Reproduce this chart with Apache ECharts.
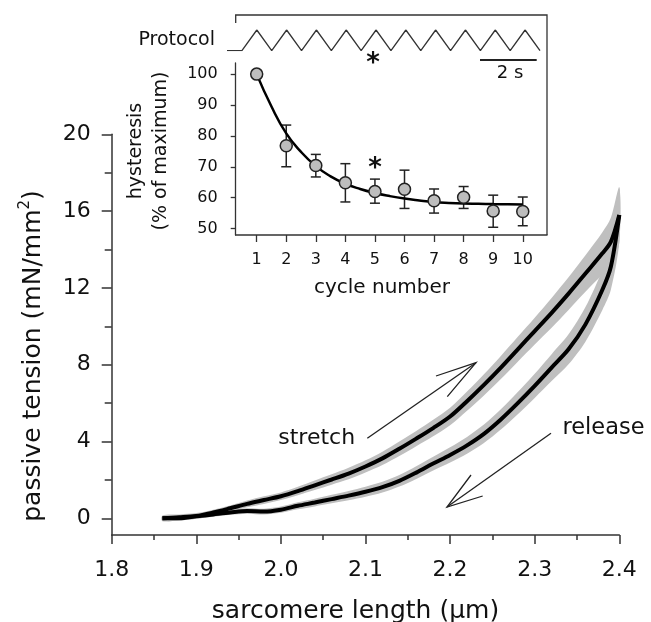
<!DOCTYPE html>
<html><head><meta charset="utf-8">
<script src="https://cdn.jsdelivr.net/npm/echarts@6/dist/echarts.min.js"></script>
<style>html,body{margin:0;padding:0;background:#fff}#c{width:651px;height:622px}</style>
</head><body><div id="c"></div>
<script>
// ---------- main panel data ----------
const lengthUm = [1.86,1.88,1.90,1.92,1.94,1.96,1.98,2.00,2.02,2.04,2.06,2.08,2.10,2.12,2.14,2.16,2.18,2.20,2.22,2.24,2.26,2.28,2.30,2.32,2.34,2.36,2.38,2.39,2.40];
const stretchTension = [0.0,0.05,0.12,0.3,0.52,0.75,0.95,1.15,1.42,1.72,2.02,2.33,2.7,3.12,3.62,4.15,4.7,5.3,6.1,6.95,7.85,8.8,9.75,10.7,11.7,12.75,13.8,14.4,15.8];
const stretchSem = [0.15,0.15,0.15,0.15,0.15,0.18,0.2,0.2,0.22,0.25,0.27,0.3,0.32,0.35,0.38,0.4,0.43,0.46,0.5,0.55,0.6,0.65,0.7,0.78,0.85,0.95,1.1,1.25,1.45];
const releaseTension = [0.0,0.0,0.1,0.2,0.3,0.38,0.35,0.45,0.65,0.82,1.0,1.18,1.38,1.62,1.95,2.38,2.85,3.3,3.8,4.4,5.15,6.0,6.9,7.85,8.8,10.1,11.9,13.1,15.8];
const releaseSem = [0.12,0.12,0.12,0.12,0.12,0.14,0.15,0.16,0.18,0.2,0.22,0.24,0.26,0.28,0.3,0.33,0.36,0.4,0.44,0.48,0.53,0.58,0.63,0.7,0.78,0.9,1.05,1.2,1.4];
const tensionTicks = [0,4,8,12,16,20];
const tensionMinorTicks = [2,6,10,14,18];
const lengthTicks = [1.8,1.9,2.0,2.1,2.2,2.3,2.4];
const lengthMinorTicks = [1.85,1.95,2.05,2.15,2.25,2.35];

// ---------- inset data ----------
const cycles = [1,2,3,4,5,6,7,8,9,10];
const hysteresis = [100,76.8,70.4,64.8,62.0,62.7,59.0,60.1,55.7,55.5];
const hystLow = [100,70.0,66.7,58.6,58.2,56.5,55.0,56.5,50.4,50.9];
const hystHigh = [100,83.5,74.0,71.0,66.0,68.9,62.8,63.6,60.8,60.2];
const fitCycle = [1,1.5,2,2.5,3,3.5,4,4.5,5,5.5,6,6.5,7,7.5,8,8.5,9,9.5,10];
const fitValue = [100,89.5,80.8,74.8,70.2,66.9,64.5,62.8,61.5,60.5,59.7,59.1,58.6,58.3,58.1,58.0,57.9,57.85,57.8];
const hystTicks = [50,60,70,80,90,100];

// ---------- protocol trace ----------
const protocolTime = [-0.5,0,0.5,1,1.5,2,2.5,3,3.5,4,4.5,5,5.5,6,6.5,7,7.5,8,8.5,9,9.5,10];
const protocolLength = [0,0,1,0,1,0,1,0,1,0,1,0,1,0,1,0,1,0,1,0,1,0];

const FONT = 'DejaVu Sans';
const AX = '#333';
const TXT = '#111';
const chart = echarts.init(document.getElementById('c'), null, {renderer:'canvas'});

function pairs(xs, ys){ return xs.map((x,i)=>[x, ys[i]]); }

function bandItem(params, api){
  const mk = (T, E) => {
    const up = [], lo = [];
    for (let i = 0; i < lengthUm.length; i++){
      up.push(api.coord([lengthUm[i], T[i] + E[i]]));
      lo.push(api.coord([lengthUm[i], T[i] - E[i]]));
    }
    return up.concat(lo.reverse());
  };
  return {type:'group', children:[
    {type:'polygon', shape:{points: mk(stretchTension, stretchSem), smooth:0.3}, style:{fill:'#bfbfbf'}},
    {type:'polygon', shape:{points: mk(releaseTension, releaseSem), smooth:0.3}, style:{fill:'#bfbfbf'}}
  ]};
}
function errItem(params, api){
  const x = api.value(0), lo = api.value(1), hi = api.value(2);
  const a = api.coord([x, hi]), b = api.coord([x, lo]);
  const st = {stroke:'#222', lineWidth:1.5};
  return {type:'group', children:[
    {type:'line', shape:{x1:a[0], y1:a[1], x2:b[0], y2:b[1]}, style:st},
    {type:'line', shape:{x1:a[0]-5, y1:a[1], x2:a[0]+5, y2:a[1]}, style:st},
    {type:'line', shape:{x1:b[0]-5, y1:b[1], x2:b[0]+5, y2:b[1]}, style:st}
  ]};
}

const axLine = {onZero:false, lineStyle:{color:AX, width:1.5}};
const option = {
  animation:false,
  backgroundColor:'#fff',
  grid:[
    {left:111.7, right:31.7, top:134.3, bottom:87},
    {left:235.7, right:104, top:63, bottom:387},
    {left:227, right:111, top:30, bottom:571.3}
  ],
  xAxis:[
    {type:'value', gridIndex:0, position:'bottom', min:1.8, max:2.4, axisLine:axLine,
     axisTick:{customValues:lengthTicks, length:9, lineStyle:{color:AX, width:1.5}},
     axisLabel:{customValues:lengthTicks, formatter:v=>v.toFixed(1), fontSize:22, fontFamily:FONT, color:TXT, margin:24},
     splitLine:{show:false}},
    {type:'value', gridIndex:0, position:'bottom', min:1.8, max:2.4, axisLine:{show:false, onZero:false},
     axisTick:{customValues:lengthMinorTicks, length:5, lineStyle:{color:AX, width:1.5}},
     axisLabel:{show:false}, splitLine:{show:false}},
    {type:'value', gridIndex:1, position:'bottom', min:0.29, max:10.82, axisLine:axLine,
     axisTick:{customValues:cycles, length:7, lineStyle:{color:AX, width:1.3}},
     axisLabel:{customValues:cycles, fontSize:16, fontFamily:FONT, color:TXT, margin:17},
     splitLine:{show:false}},
    {type:'value', gridIndex:2, min:-0.5, max:10, show:false}
  ],
  yAxis:[
    {type:'value', gridIndex:0, position:'left', min:-0.87, max:20, axisLine:{show:true, onZero:false, lineStyle:{color:AX, width:1.5}},
     axisTick:{show:true, customValues:tensionTicks, length:10, lineStyle:{color:AX, width:1.5}},
     axisLabel:{customValues:tensionTicks, fontSize:22, fontFamily:FONT, color:TXT, margin:21},
     splitLine:{show:false}},
    {type:'value', gridIndex:0, position:'left', min:-0.87, max:20, axisLine:{show:false, onZero:false},
     axisTick:{show:true, customValues:tensionMinorTicks, length:7, lineStyle:{color:AX, width:1.5}},
     axisLabel:{show:false}, splitLine:{show:false}},
    {type:'value', gridIndex:1, position:'left', min:47.9, max:103.6, axisLine:{show:true, onZero:false, lineStyle:{color:AX, width:1.3}},
     axisTick:{show:true, customValues:hystTicks, length:5, lineStyle:{color:AX, width:1.3}},
     axisLabel:{customValues:hystTicks, fontSize:16, fontFamily:FONT, color:TXT, margin:18},
     splitLine:{show:false}},
    {type:'value', gridIndex:2, min:0, max:1, show:false}
  ],
  series:[
    {type:'custom', xAxisIndex:0, yAxisIndex:0, renderItem:bandItem, data:[[1.86,0]], silent:true, z:1},
    {type:'line', xAxisIndex:0, yAxisIndex:0, data:pairs(lengthUm, stretchTension), showSymbol:false, smooth:0.3,
     lineStyle:{color:'#000', width:4}, z:3},
    {type:'line', xAxisIndex:0, yAxisIndex:0, data:pairs(lengthUm, releaseTension), showSymbol:false, smooth:0.3,
     lineStyle:{color:'#000', width:4}, z:3},
    {type:'custom', xAxisIndex:2, yAxisIndex:2, renderItem:errItem,
     encode:{x:0, y:[1,2]},
     data:cycles.map((c,i)=>[c, hystLow[i], hystHigh[i]]).filter(d=>d[1]!==d[2]), z:3},
    {type:'line', xAxisIndex:2, yAxisIndex:2, data:pairs(fitCycle, fitValue), smooth:true, showSymbol:false,
     lineStyle:{color:'#000', width:2.5}, z:4},
    {type:'scatter', xAxisIndex:2, yAxisIndex:2, data:pairs(cycles, hysteresis), symbol:'circle', symbolSize:12,
     itemStyle:{color:'#bdbdbd', borderColor:'#222', borderWidth:1.5, opacity:1}, z:5},
    {type:'line', xAxisIndex:3, yAxisIndex:3, data:pairs(protocolTime, protocolLength), showSymbol:false,
     lineStyle:{color:AX, width:1.3}, z:3}
  ],
  graphic:[
    {type:'polyline', shape:{points:[[235.7,23],[235.7,15],[547,15],[547,235]]}, style:{stroke:AX, lineWidth:1.3, fill:null}},
    {type:'line', shape:{x1:480, y1:60, x2:536.7, y2:60}, style:{stroke:'#222', lineWidth:2}},
    {type:'text', x:510, y:73, style:{text:'2 s', font:'18px "DejaVu Sans"', fill:TXT, align:'center', verticalAlign:'middle'}},
    {type:'text', x:215, y:40, style:{text:'Protocol', font:'19px "DejaVu Sans"', fill:TXT, align:'right', verticalAlign:'middle'}},
    {type:'text', x:373, y:64, style:{text:'*', font:'bold 26px "DejaVu Sans"', fill:TXT, align:'center', verticalAlign:'middle'}},
    {type:'text', x:375, y:169, style:{text:'*', font:'bold 26px "DejaVu Sans"', fill:TXT, align:'center', verticalAlign:'middle'}},
    {type:'text', x:149, y:151, rotation:Math.PI/2,
     style:{text:'hysteresis\n(% of maximum)', font:'19px "DejaVu Sans"', lineHeight:25, fill:TXT, align:'center', verticalAlign:'middle'}},
    {type:'text', x:382, y:288, style:{text:'cycle number', font:'20px "DejaVu Sans"', fill:TXT, align:'center', verticalAlign:'middle'}},
    {type:'text', x:355.5, y:611, style:{text:'sarcomere length (μm)', font:'25px "DejaVu Sans"', fill:TXT, align:'center', verticalAlign:'middle'}},
    {type:'text', x:33, y:356, rotation:Math.PI/2,
     style:{text:'{a|passive tension (mN/mm}{s|2}{a|)}', align:'center', verticalAlign:'middle', fill:TXT,
       rich:{a:{fontSize:25, fontFamily:FONT, fill:TXT, lineHeight:30}, s:{fontSize:15, fontFamily:FONT, fill:TXT, verticalAlign:'top', lineHeight:30}}}},
    {type:'text', x:316.7, y:438, style:{text:'stretch', font:'22px "DejaVu Sans"', fill:TXT, align:'center', verticalAlign:'middle'}},
    {type:'text', x:603.5, y:428.3, style:{text:'release', font:'22.5px "DejaVu Sans"', fill:TXT, align:'center', verticalAlign:'middle'}},
    {type:'polyline', shape:{points:[[367.3,438.3],[476,362.7]]}, style:{stroke:'#222', lineWidth:1.3, fill:null}},
    {type:'polyline', shape:{points:[[436,376],[476,362.7],[447.3,396.7]]}, style:{stroke:'#222', lineWidth:1.3, fill:null}},
    {type:'polyline', shape:{points:[[551,433.3],[447,507]]}, style:{stroke:'#222', lineWidth:1.3, fill:null}},
    {type:'polyline', shape:{points:[[471,475],[447,507],[482.7,496]]}, style:{stroke:'#222', lineWidth:1.3, fill:null}}
  ]
};
chart.setOption(option);
</script></body></html>
